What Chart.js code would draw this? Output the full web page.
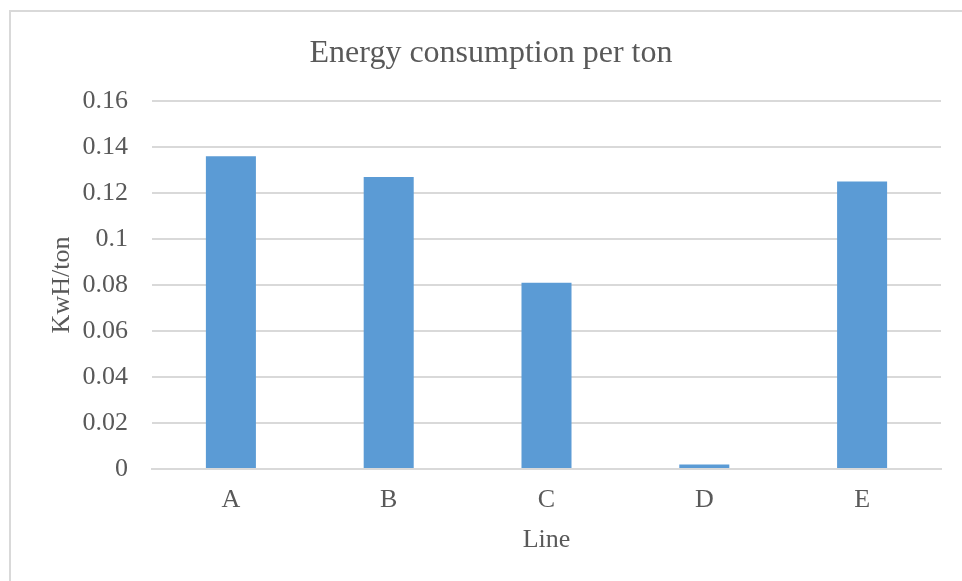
<!DOCTYPE html>
<html>
<head>
<meta charset="utf-8">
<script src="https://cdn.jsdelivr.net/npm/chart.js@4/dist/chart.umd.min.js"></script>
<style>
  html, body { margin: 0; padding: 0; background: #fff; overflow: hidden; }
  #frame { position: absolute; left: 9px; top: 10px; width: 1000px; height: 700px; border: 2px solid #d9d9d9; box-sizing: border-box; }
  #wrap { position: absolute; left: 0; top: 0; width: 962px; height: 581px; }
</style>
</head>
<body>
<div id="frame"></div>
<div id="wrap"><canvas id="chart" width="962" height="581"></canvas></div>
<script>
// Energy use per ton of output for each production line
const lines = ['A', 'B', 'C', 'D', 'E'];
const kwhPerTon = [0.136, 0.127, 0.081, 0.002, 0.125];
const yTicks = [0, 0.02, 0.04, 0.06, 0.08, 0.1, 0.12, 0.14, 0.16];

const textColor = '#595959';
const serif = "'Liberation Serif', 'Times New Roman', serif";

new Chart(document.getElementById('chart'), {
  type: 'bar',
  data: {
    labels: lines,
    datasets: [{
      label: 'KwH/ton',
      data: kwhPerTon,
      backgroundColor: '#5b9bd5',
      borderWidth: 0,
      categoryPercentage: 1,
      barPercentage: 0.317
    }]
  },
  options: {
    responsive: false,
    animation: false,
    layout: { padding: { left: 41, right: 21, top: 0, bottom: 0 } },
    plugins: {
      legend: { display: false },
      tooltip: { enabled: false },
      title: {
        display: true,
        text: 'Energy consumption per ton',
        color: textColor,
        font: { family: serif, size: 32, weight: 'normal' },
        padding: { top: 34, bottom: 28.6 }
      }
    },
    scales: {
      x: {
        grid: { display: false, drawTicks: false },
        border: { display: true, color: '#d9d9d9', width: 2 },
        ticks: { color: textColor, font: { family: serif, size: 26 }, padding: 16 },
        title: {
          display: true, text: 'Line', color: textColor,
          font: { family: serif, size: 26 }, padding: { top: 0, bottom: 25 }
        },
        afterFit: (s) => { s.height = 112; }
      },
      y: {
        min: 0, max: 0.16,
        afterBuildTicks: (s) => { s.ticks = yTicks.map(v => ({ value: v })); },
        grid: { color: '#d9d9d9', lineWidth: 2, drawTicks: false },
        border: { display: false },
        ticks: {
          color: textColor, font: { family: serif, size: 26 }, padding: 24,
          callback: (v) => String(Number(v.toFixed(2)))
        },
        title: {
          display: true, text: 'KwH/ton', color: textColor,
          font: { family: serif, size: 26 }, padding: { top: 5.4, bottom: 0 }
        },
        afterFit: (s) => { s.width = 111; }
      }
    }
  }
});
</script>
</body>
</html>
